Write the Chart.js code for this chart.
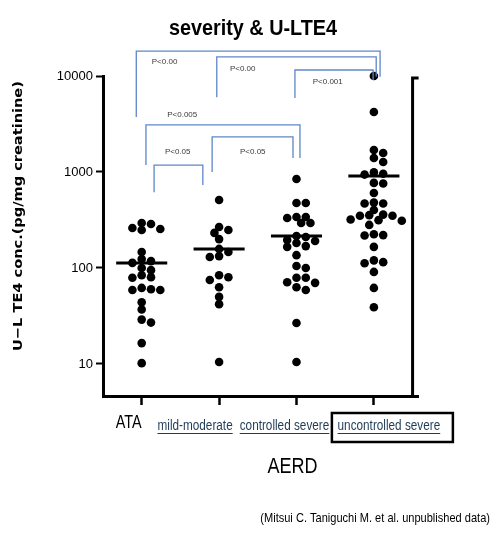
<!DOCTYPE html>
<html>
<head>
<meta charset="utf-8">
<script src="https://cdn.jsdelivr.net/npm/chart.js@4/dist/chart.umd.min.js"></script>
<style>
  html, body { margin: 0; padding: 0; background: #fff; }
  canvas { display: block; }
</style>
</head>
<body>
<canvas id="chart" width="493" height="534"></canvas>
<script>
(() => {
  'use strict';

  // Data
  const chartTitle = 'severity & U-LTE4';
  const yTitle = 'U\u2212L TE4 conc.(pg/mg creatinine)';
  const categories = ['ATA', 'mild-moderate', 'controlled severe', 'uncontrolled severe'];
  const groupName = 'AERD';
  const sourceNote = '(Mitsui C. Taniguchi M. et al. unpublished data)';
  const ataValues = [294, 287, 261, 255, 249, 147, 124, 118, 113, 100, 95, 84, 80, 79, 62, 60, 59, 59, 44, 37, 29, 27, 16.5, 10.2];
  const mildValues = [511, 267, 249, 232, 200, 158, 147, 133, 130, 84, 80, 75, 63, 50, 42, 10.5];
  const controlledValues = [845, 475, 475, 340, 340, 332, 294, 294, 215, 210, 196, 191, 182, 169, 166, 136, 105, 100, 79, 79, 71, 70, 63, 59, 26.7, 10.5];
  const uncontrolledValues = [10000, 4220, 1694, 1577, 1400, 1271, 990, 960, 940, 770, 760, 604, 480, 470, 470, 402, 360, 355, 350, 350, 320, 315, 310, 281, 225, 220, 218, 166, 120, 115, 112, 91, 62, 39];
  const groupMeans = [113, 158, 215, 910];
  const yTicks = [10, 100, 1000, 10000];
  const comparisons = [
    { from: 0, to: 3, label: 'P<0.00' },
    { from: 1, to: 3, label: 'P<0.00' },
    { from: 2, to: 3, label: 'P<0.001' },
    { from: 0, to: 2, label: 'P<0.005' },
    { from: 0, to: 1, label: 'P<0.05' },
    { from: 1, to: 2, label: 'P<0.05' }
  ];
  const groupValues = [ataValues, mildValues, controlledValues, uncontrolledValues];

  const sans = "'Liberation Sans', Arial, sans-serif";
  const textBlue = '#1f3b57';

  // bracket geometry (x offsets in category units, heights in axis values)
  const bracketShape = [
    { d0: -0.07, d1: 0.08, top: 18200, leg0: 3740, leg1: 9800, lx: 0.13, ly: 14000 },
    { d0: -0.03, d1: 0.03, top: 15800, leg0: 6000, leg1: 9800, lx: 0.14, ly: 11800 },
    { d0: -0.02, d1: -0.01, top: 11550, leg0: 5900, leg1: 9100, lx: 0.21, ly: 8660 },
    { d0: 0.055, d1: 0.045, top: 3090, leg0: 1180, leg1: 1400, lx: 0.33, ly: 3920 },
    { d0: 0.16, d1: -0.21, top: 1180, leg0: 617, leg1: 733, lx: 0.30, ly: 1616 },
    { d0: -0.09, d1: -0.045, top: 2320, leg0: 1000, leg1: 1400, lx: 0.27, ly: 1616 }
  ];
  // label offsets from category tick, px
  const labelShift = [-13, -24, -12, 15];

  // beeswarm on half steps; dots may touch a little, as in the original
  function swarmOffsets(values, yScale, step) {
    const placed = [];
    const half = step / 2;
    const offsets = new Array(values.length).fill(0);
    const order = values.map((v, i) => i).sort((a, b) => values[b] - values[a]);
    for (const i of order) {
      const py = yScale.getPixelForValue(values[i]);
      for (let k = 0; k < 60; k++) {
        const dx = (k % 2 ? 1 : -1) * Math.ceil(k / 2) * half;
        if (placed.every(p => Math.hypot(p.x - dx, p.y - py) >= step * 0.74)) {
          offsets[i] = dx;
          placed.push({ x: dx, y: py });
          break;
        }
      }
    }
    return offsets;
  }

  // text squeezed horizontally, like the condensed face of the original
  function squeezed(ctx, text, x, y, sx) {
    ctx.save();
    ctx.translate(x, y);
    ctx.scale(sx, 1);
    ctx.fillText(text, 0, 0);
    ctx.restore();
    return ctx.measureText(text).width * sx;
  }

  const annotate = {
    id: 'annotate',
    afterDraw(chart) {
      const { ctx, scales: { x, y } } = chart;
      const area = chart.chartArea;
      ctx.save();

      // title
      ctx.fillStyle = '#000';
      ctx.textAlign = 'center';
      ctx.textBaseline = 'middle';
      ctx.font = 'bold 22px ' + sans;
      squeezed(ctx, chartTitle, 253, 29, 0.9);

      // y axis title
      ctx.save();
      ctx.translate(19, 216);
      ctx.rotate(-Math.PI / 2);
      ctx.font = "bold 13px 'DejaVu Sans', sans-serif";
      squeezed(ctx, yTitle, 0, 0, 1.12);
      ctx.restore();

      // right frame line with small outward tick at the top
      const rx = x.getPixelForValue(3.5);
      const top = y.getPixelForValue(10000) + 2;
      ctx.strokeStyle = '#000';
      ctx.lineWidth = 3;
      ctx.beginPath();
      ctx.moveTo(rx + 6, top);
      ctx.lineTo(rx, top);
      ctx.lineTo(rx, area.bottom);
      ctx.stroke();

      // significance brackets
      ctx.strokeStyle = '#5f86c8';
      ctx.lineWidth = 1.3;
      ctx.font = '8px ' + sans;
      ctx.fillStyle = '#3a3a3a';
      ctx.textAlign = 'left';
      comparisons.forEach((c, i) => {
        const s = bracketShape[i];
        const x0 = x.getPixelForValue(c.from + s.d0);
        const x1 = x.getPixelForValue(c.to + s.d1);
        const yt = y.getPixelForValue(s.top);
        ctx.beginPath();
        ctx.moveTo(x0, y.getPixelForValue(s.leg0));
        ctx.lineTo(x0, yt);
        ctx.lineTo(x1, yt);
        ctx.lineTo(x1, y.getPixelForValue(s.leg1));
        ctx.stroke();
        ctx.fillText(c.label, x.getPixelForValue(c.from + s.lx), y.getPixelForValue(s.ly));
      });

      // category labels
      const base = area.bottom;
      ctx.textAlign = 'center';
      categories.forEach((name, i) => {
        const cx = x.getPixelForValue(i) + labelShift[i];
        if (i === 0) {
          ctx.fillStyle = '#000';
          ctx.font = '18px ' + sans;
          squeezed(ctx, name, cx, base + 27, 0.8);
          return;
        }
        ctx.fillStyle = textBlue;
        ctx.font = '14px ' + sans;
        const w = squeezed(ctx, name, cx, base + 30, 0.84);
        ctx.fillRect(cx - w / 2, base + 37, w, 1);
      });

      // box round the last label
      ctx.strokeStyle = '#000';
      ctx.lineWidth = 2.5;
      ctx.strokeRect(x.getPixelForValue(3) - 42, base + 17, 121, 29);

      ctx.fillStyle = '#000';
      ctx.font = '22px ' + sans;
      squeezed(ctx, groupName, x.getPixelForValue(2) - 4, base + 71, 0.82);

      ctx.font = '13px ' + sans;
      ctx.textAlign = 'right';
      squeezed(ctx, sourceNote, 490, 518, 0.85);
      ctx.restore();
    }
  };

  const pointSets = groupValues.map((vals, g) => ({
    type: 'scatter',
    data: vals.map(v => ({ x: g, y: v })),
    backgroundColor: '#000',
    borderWidth: 0,
    pointRadius: 4.3,
    clip: false
  }));
  const meanSets = groupMeans.map((m, g) => ({
    type: 'line',
    data: [{ x: g - 0.33, y: m }, { x: g + 0.33, y: m }],
    borderColor: '#000',
    borderWidth: 3,
    pointRadius: 0,
    clip: false
  }));

  const chart = new Chart(document.getElementById('chart'), {
    type: 'scatter',
    data: { datasets: pointSets.concat(meanSets) },
    options: {
      responsive: false,
      animation: false,
      layout: { padding: { top: 76, right: 75, bottom: 0, left: 0 } },
      plugins: {
        legend: { display: false },
        tooltip: { enabled: false },
        title: { display: false }
      },
      scales: {
        x: {
          type: 'linear',
          min: -0.5,
          max: 3.57,
          afterBuildTicks: s => { s.ticks = [0, 1, 2, 3].map(v => ({ value: v })); },
          afterFit: s => { s.height = 138; },
          ticks: { display: false },
          grid: { drawOnChartArea: false, tickLength: 9, tickColor: '#000', tickWidth: 2.5 },
          border: { color: '#000', width: 3 }
        },
        y: {
          type: 'logarithmic',
          min: 4.64,
          max: 10000,
          afterBuildTicks: s => { s.ticks = yTicks.map(v => ({ value: v })); },
          afterFit: s => { s.width = 103; },
          ticks: {
            callback: v => String(v),
            color: '#000',
            padding: 3,
            font: { family: sans, size: 13 }
          },
          grid: { drawOnChartArea: false, tickLength: 7, tickColor: '#000', tickWidth: 2 },
          border: { color: '#000', width: 3 }
        }
      }
    },
    plugins: [annotate]
  });

  // spread the dots once the scales exist
  const unit = chart.scales.x.getPixelForValue(1) - chart.scales.x.getPixelForValue(0);
  groupValues.forEach((vals, g) => {
    const offs = swarmOffsets(vals, chart.scales.y, 9.3);
    chart.data.datasets[g].data = vals.map((v, i) => ({ x: g + offs[i] / unit, y: v }));
  });
  chart.update('none');
})();
</script>
</body>
</html>
